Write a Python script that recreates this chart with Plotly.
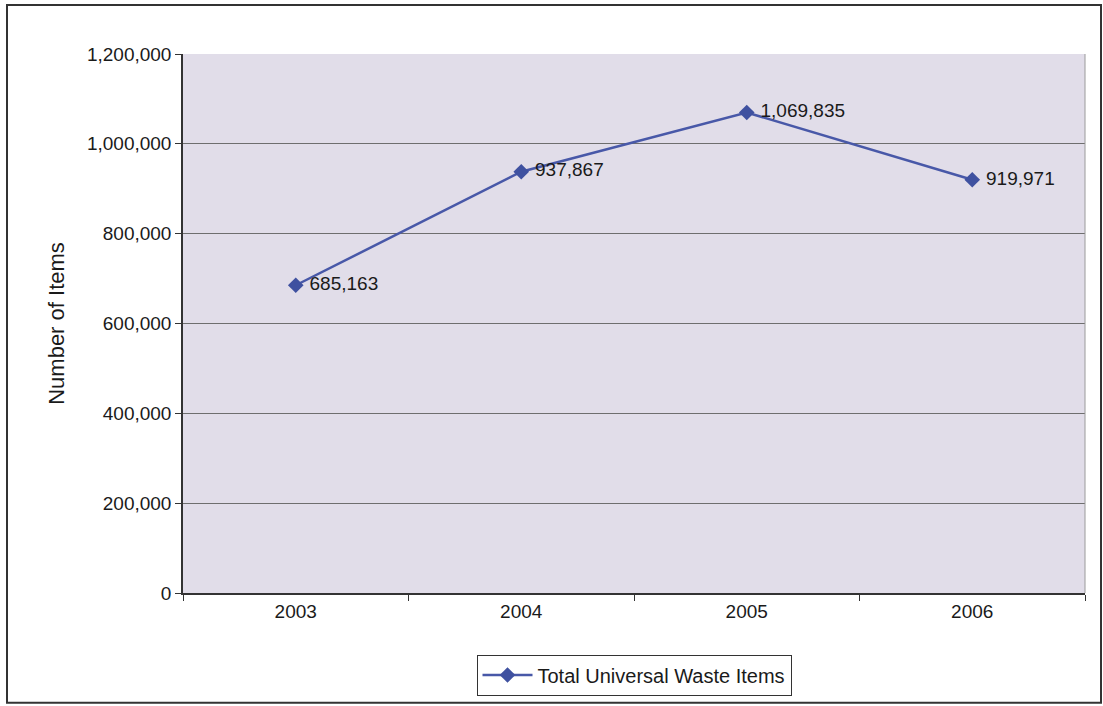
import plotly.graph_objects as go

years = ["2003", "2004", "2005", "2006"]
items = [685163, 937867, 1069835, 919971]
labels = ["685,163", "937,867", "1,069,835", "919,971"]
series_name = "Total Universal Waste Items"
y_ticks = [0, 200000, 400000, 600000, 800000, 1000000, 1200000]
y_tick_text = ["0", "200,000", "400,000", "600,000", "800,000", "1,000,000", "1,200,000"]

W, H = 1103, 706
L, R, T, B = 183, 18, 54, 112
pw, ph = W - L - R, H - T - B

def px(x):
    return (x - L) / pw

def py(y):
    return (H - B - y) / ph

FONT = "Liberation Sans, Arial"

fig = go.Figure()
fig.add_trace(go.Scatter(
    x=years, y=items, mode="lines+markers+text", name=series_name,
    text=[" " + t for t in labels], textposition="middle right",
    textfont=dict(family=FONT, size=19, color="#1a1a1a"),
    line=dict(color="#4858a8", width=2.5),
    marker=dict(symbol="diamond", size=12, color="#3f51a0"),
    cliponaxis=False,
))

fig.update_layout(
    width=W, height=H,
    margin=dict(l=L, r=R, t=T, b=B),
    paper_bgcolor="white",
    plot_bgcolor="#e1dde9",
    font=dict(family=FONT, size=19, color="#1a1a1a"),
    showlegend=True,
    legend=dict(
        orientation="h", x=0.5, xanchor="center", y=py(675), yanchor="middle",
        bordercolor="#333333", borderwidth=1, bgcolor="white",
        font=dict(size=20), itemwidth=50,
    ),
    xaxis=dict(
        type="category", range=[-0.5, 3.5], tickson="boundaries",
        ticks="outside", ticklen=6, tickcolor="#333333",
        showline=True, linecolor="#333333", linewidth=1.5,
        showgrid=False, tickfont=dict(size=19),
    ),
    yaxis=dict(
        range=[0, 1200000], tickvals=y_ticks, ticktext=y_tick_text,
        ticks="outside", ticklen=6, tickcolor="#333333",
        showline=True, linecolor="#333333", linewidth=1.5,
        showgrid=True, gridcolor="#6e6e6e", gridwidth=1,
        zeroline=False, tickfont=dict(size=19),
        title=dict(text="Number of Items", font=dict(size=22), standoff=16),
    ),
    shapes=[
        dict(type="rect", xref="paper", yref="paper",
             x0=px(7), x1=px(1101), y0=py(704), y1=py(5),
             line=dict(color="#333333", width=2), fillcolor="rgba(0,0,0,0)", layer="below"),
        dict(type="line", xref="paper", yref="paper",
             x0=1, x1=1, y0=0, y1=1, line=dict(color="#9a9a9a", width=1)),
    ],
)

fig.write_html("out.html")
